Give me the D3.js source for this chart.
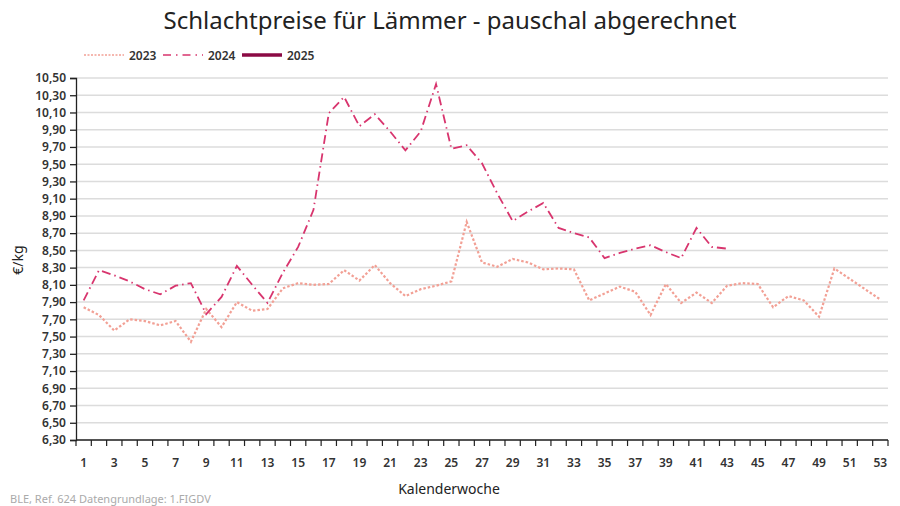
<!DOCTYPE html>
<html><head><meta charset="utf-8">
<script src="https://cdn.jsdelivr.net/npm/d3@7/dist/d3.min.js"></script>
<style>body{margin:0;background:#fff}svg{display:block}</style>
</head><body><svg id="c" width="900" height="506"></svg>
<script>
const weeks = d3.range(1, 54);
const values2023 = [7.84,7.75,7.57,7.70,7.68,7.63,7.68,7.44,7.82,7.61,7.90,7.80,7.82,8.06,8.12,8.10,8.11,8.27,8.15,8.33,8.12,7.97,8.05,8.09,8.14,8.83,8.36,8.31,8.40,8.36,8.28,8.29,8.28,7.92,8.00,8.08,8.02,7.75,8.11,7.89,8.01,7.89,8.09,8.12,8.11,7.84,7.97,7.92,7.73,8.29,8.17,8.05,7.93];
const values2024 = [7.92,8.27,8.21,8.14,8.05,7.99,8.09,8.12,7.76,7.96,8.32,8.10,7.89,8.24,8.54,8.97,10.09,10.28,9.94,10.08,9.88,9.66,9.88,10.43,9.68,9.72,9.51,9.16,8.84,8.95,9.05,8.76,8.70,8.65,8.41,8.47,8.52,8.56,8.48,8.41,8.76,8.54,8.52];
const values2025 = [];
const yTicks = d3.range(0, 22).map(i => +(6.3 + i * 0.2).toFixed(2));
const seriesNames = ["2023", "2024", "2025"];

const svg = d3.select("#c");
const font = "'Noto Sans', 'DejaVu Sans', sans-serif";
const m = {l: 76, r: 888, t: 78, b: 440};

const x = d3.scaleBand().domain(weeks).range([m.l, m.r]);
const y = d3.scaleLinear().domain([6.3, 10.5]).range([m.b, m.t]);
const fmt = v => v.toFixed(2).replace(".", ",");

svg.append("g").selectAll("line").data(yTicks).join("line")
  .attr("x1", m.l).attr("x2", m.r)
  .attr("y1", d => y(d)).attr("y2", d => y(d))
  .attr("stroke", "#dcdcdc").attr("stroke-width", 1.5);

const ya = svg.append("g").attr("transform", `translate(${m.l},0)`)
  .call(d3.axisLeft(y).tickValues(yTicks).tickFormat(fmt).tickSize(6).tickPadding(4));
ya.select(".domain").attr("stroke", "#222").attr("stroke-width", 1.3);
ya.selectAll(".tick line").attr("stroke", "#222").attr("stroke-width", 1.3);
ya.selectAll("text").attr("font-family", font).attr("font-size", 12).attr("fill", "#333").attr("font-weight", 600);

const xa = svg.append("g").attr("transform", `translate(0,${m.b})`);
xa.append("line").attr("x1", m.l).attr("x2", m.r).attr("stroke", "#222").attr("stroke-width", 1.3);
const bounds = d3.range(0, weeks.length + 1);
xa.selectAll(".tk").data(bounds).join("line").attr("class", "tk")
  .attr("x1", d => m.l + d * x.bandwidth()).attr("x2", d => m.l + d * x.bandwidth())
  .attr("y1", 0).attr("y2", 6).attr("stroke", "#222").attr("stroke-width", 1.2);
xa.selectAll("text").data(weeks.filter(w => w % 2 === 1)).join("text")
  .attr("x", d => x(d) + x.bandwidth() / 2).attr("y", 27)
  .attr("text-anchor", "middle").attr("font-family", font).attr("font-size", 12)
  .attr("fill", "#333").attr("font-weight", 600).text(d => d);

const line = d3.line().x((d, i) => x(weeks[i]) + x.bandwidth() / 2).y(d => y(d));

const styles = {
  "2023": {color: "#f2a095", width: 2.2, dash: "2.5,2"},
  "2024": {color: "#d8356e", width: 1.8, dash: "9,4,1.5,4"},
  "2025": {color: "#8b0a44", width: 3.5, dash: null}
};
const data = {"2023": values2023, "2024": values2024, "2025": values2025};

seriesNames.forEach(n => {
  if (!data[n].length) return;
  svg.append("path").datum(data[n]).attr("d", line)
    .attr("fill", "none").attr("stroke", styles[n].color)
    .attr("stroke-width", styles[n].width)
    .attr("stroke-dasharray", styles[n].dash);
});

const lg = svg.append("g").attr("transform", "translate(84,55)");
seriesNames.forEach((n, i) => {
  const g = lg.append("g").attr("transform", `translate(${i * 79},0)`);
  g.append("line").attr("x1", 0).attr("x2", 40).attr("y1", 0).attr("y2", 0)
    .attr("stroke", styles[n].color).attr("stroke-width", n === "2025" ? 3.5 : 1.6)
    .attr("stroke-dasharray", n === "2023" ? "2,1.5" : (n === "2024" ? "8,5,1.5,5" : null));
  g.append("text").attr("x", 45).attr("y", 4.5).attr("font-family", font)
    .attr("font-size", 12).attr("fill", "#333").attr("font-weight", 600).text(n);
});

svg.append("text").attr("x", 450).attr("y", 29).attr("text-anchor", "middle")
  .attr("font-family", font).attr("font-size", 24).attr("fill", "#222")
  .text("Schlachtpreise für Lämmer - pauschal abgerechnet");

svg.append("text").attr("transform", "translate(23,260) rotate(-90)")
  .attr("text-anchor", "middle").attr("font-family", font).attr("font-size", 14)
  .attr("fill", "#222").text("€/kg");
svg.append("text").attr("x", 449).attr("y", 494).attr("text-anchor", "middle")
  .attr("font-family", font).attr("font-size", 14).attr("fill", "#222").text("Kalenderwoche");

svg.append("text").attr("x", 10).attr("y", 503).attr("font-family", font)
  .attr("font-size", 11).attr("fill", "#aaa").text("BLE, Ref. 624 Datengrundlage: 1.FIGDV");
</script></body></html>
